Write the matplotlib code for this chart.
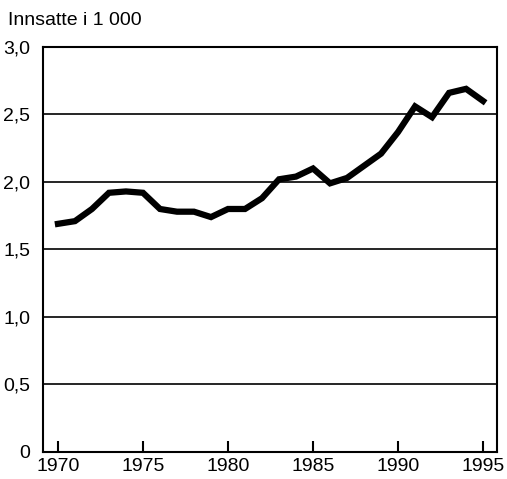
import matplotlib.pyplot as plt
from matplotlib.ticker import FixedLocator, FuncFormatter

plt.rcParams['font.family'] = ['Liberation Sans Narrow', 'Liberation Sans', 'DejaVu Sans']

years = list(range(1970, 1996))
inmates = [1.69, 1.71, 1.80, 1.92, 1.93, 1.92, 1.80, 1.78, 1.78, 1.74,
           1.80, 1.80, 1.88, 2.02, 2.04, 2.10, 1.99, 2.03, 2.12, 2.21,
           2.37, 2.56, 2.48, 2.66, 2.69, 2.60]
y_ticks = [0, 0.5, 1.0, 1.5, 2.0, 2.5, 3.0]
x_ticks = [1970, 1975, 1980, 1985, 1990, 1995]

fig = plt.figure(figsize=(5.07, 4.79), dpi=100)
ax = fig.add_axes([0.0848, 0.0564, 0.8955, 0.8455])

ax.plot(years, inmates, color='black', linewidth=4.5, solid_joinstyle='miter')

ax.set_xlim(1969.12, 1995.82)
ax.set_ylim(0, 3.0)
ax.yaxis.set_major_locator(FixedLocator(y_ticks))
ax.yaxis.set_major_formatter(FuncFormatter(lambda v, p: '0' if v == 0 else f'{v:.1f}'.replace('.', ',')))
ax.set_xticks(x_ticks)
ax.grid(axis='y', color='black', linewidth=1.2)
ax.set_axisbelow(True)

for s in ax.spines.values():
    s.set_linewidth(1.5)

ax.tick_params(axis='x', direction='in', length=8, width=1.5, labelsize=14, pad=4)
ax.tick_params(axis='y', length=0, labelsize=14, pad=9)

fig.text(0.016, 0.94, 'Innsatte i 1 000', fontsize=14, ha='left', va='bottom')

fig.savefig('out.png', dpi=100)
